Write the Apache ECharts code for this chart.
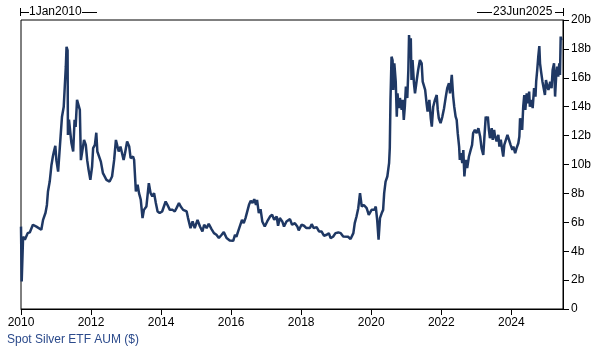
<!DOCTYPE html>
<html>
<head>
<meta charset="utf-8">
<script src="https://cdn.jsdelivr.net/npm/echarts@6/dist/echarts.min.js"></script>
<style>
html, body { margin: 0; padding: 0; background: #fff; }
#chart { width: 600px; height: 352px; }
</style>
</head>
<body>
<div id="chart"></div>
<script>
var LINE_COLOR = "#1f3864";
var FONT = "Arial, 'Liberation Sans', sans-serif";

// decimal years
var years = [
	2010.00, 2010.02, 2010.04, 2010.06, 2010.11, 2010.19, 2010.25, 2010.34, 2010.44, 2010.58,
	2010.63, 2010.70, 2010.74, 2010.77, 2010.82, 2010.85, 2010.87, 2010.91, 2010.94, 2010.98,
	2011.01, 2011.06, 2011.09, 2011.13, 2011.17, 2011.22, 2011.25, 2011.28, 2011.30, 2011.33,
	2011.34, 2011.37, 2011.41, 2011.44, 2011.49, 2011.53, 2011.56, 2011.60, 2011.65, 2011.68,
	2011.71, 2011.75, 2011.80, 2011.85, 2011.89, 2011.93, 2011.98, 2012.03, 2012.06, 2012.11,
	2012.15, 2012.18, 2012.23, 2012.28, 2012.34, 2012.39, 2012.44, 2012.49, 2012.53, 2012.60,
	2012.66, 2012.71, 2012.74, 2012.79, 2012.84, 2012.89, 2012.93, 2012.97, 2013.03, 2013.09,
	2013.13, 2013.20, 2013.23, 2013.28, 2013.33, 2013.37, 2013.42, 2013.47, 2013.51, 2013.58,
	2013.65, 2013.70, 2013.75, 2013.80, 2013.85, 2013.90, 2013.96, 2014.03, 2014.08, 2014.13,
	2014.18, 2014.25, 2014.33, 2014.39, 2014.44, 2014.51, 2014.56, 2014.63, 2014.73, 2014.77,
	2014.84, 2014.90, 2014.96, 2015.04, 2015.11, 2015.18, 2015.23, 2015.30, 2015.36, 2015.44,
	2015.51, 2015.58, 2015.65, 2015.73, 2015.79, 2015.87, 2015.96, 2016.06, 2016.11, 2016.15,
	2016.20, 2016.25, 2016.31, 2016.36, 2016.41, 2016.46, 2016.51, 2016.56, 2016.61, 2016.66,
	2016.71, 2016.74, 2016.79, 2016.84, 2016.89, 2016.96, 2017.03, 2017.11, 2017.17, 2017.23,
	2017.30, 2017.34, 2017.39, 2017.46, 2017.51, 2017.58, 2017.68, 2017.74, 2017.82, 2017.89,
	2017.93, 2018.01, 2018.08, 2018.15, 2018.25, 2018.30, 2018.36, 2018.44, 2018.51, 2018.58,
	2018.65, 2018.73, 2018.79, 2018.84, 2018.91, 2018.98, 2019.06, 2019.13, 2019.20, 2019.34,
	2019.41, 2019.49, 2019.53, 2019.58, 2019.63, 2019.68, 2019.73, 2019.79, 2019.87, 2019.93,
	2020.01, 2020.09, 2020.13, 2020.17, 2020.21, 2020.25, 2020.30, 2020.34, 2020.37, 2020.41,
	2020.46, 2020.51, 2020.53, 2020.55, 2020.58, 2020.61, 2020.63, 2020.66, 2020.70, 2020.73,
	2020.75, 2020.79, 2020.82, 2020.87, 2020.90, 2020.93, 2020.96, 2020.99, 2021.03, 2021.06,
	2021.08, 2021.11, 2021.13, 2021.15, 2021.18, 2021.22, 2021.25, 2021.30, 2021.34, 2021.39,
	2021.44, 2021.47, 2021.51, 2021.54, 2021.58, 2021.61, 2021.66, 2021.70, 2021.73, 2021.77,
	2021.82, 2021.87, 2021.90, 2021.93, 2021.98, 2022.03, 2022.08, 2022.13, 2022.17, 2022.22,
	2022.25, 2022.30, 2022.34, 2022.37, 2022.41, 2022.44, 2022.47, 2022.51, 2022.53, 2022.56,
	2022.60, 2022.63, 2022.66, 2022.70, 2022.74, 2022.79, 2022.84, 2022.88, 2022.91, 2022.96,
	2023.01, 2023.06, 2023.11, 2023.15, 2023.20, 2023.23, 2023.27, 2023.30, 2023.33, 2023.36,
	2023.39, 2023.44, 2023.47, 2023.51, 2023.53, 2023.58, 2023.63, 2023.66, 2023.70, 2023.74,
	2023.77, 2023.80, 2023.84, 2023.89, 2023.93, 2023.98, 2024.03, 2024.06, 2024.11, 2024.15,
	2024.20, 2024.23, 2024.25, 2024.28, 2024.31, 2024.34, 2024.37, 2024.40, 2024.44, 2024.47,
	2024.51, 2024.53, 2024.58, 2024.61, 2024.65, 2024.69, 2024.71, 2024.74, 2024.77, 2024.80,
	2024.82, 2024.85, 2024.89, 2024.93, 2024.96, 2024.99, 2025.03, 2025.06, 2025.11, 2025.15,
	2025.18, 2025.22, 2025.25, 2025.28, 2025.31, 2025.34, 2025.37, 2025.39, 2025.41, 2025.43
];

// AUM in billions of $
var aum = [
	5.7, 1.9, 2.0, 5.0, 4.8, 5.25, 5.3, 5.83, 5.7, 5.48,
	6.17, 6.66, 7.2, 8.13, 8.82, 9.51, 9.97, 10.55, 10.9, 11.29,
	10.3, 9.51, 10.55, 11.93, 13.3, 14.0, 15.4, 16.77, 18.15, 17.9,
	12.05, 13.1, 12.17, 11.48, 10.9, 13.1, 12.6, 14.47, 14.35, 13.78,
	10.3, 10.2, 11.7, 11.36, 10.3, 9.63, 8.94, 9.86, 11.13, 11.36,
	12.2, 10.9, 10.78, 10.2, 9.4, 9.44, 8.94, 9.0, 8.82, 9.17,
	10.32, 11.7, 11.82, 10.9, 11.24, 11.36, 10.32, 10.78, 11.59, 11.24,
	10.44, 10.55, 10.32, 8.13, 8.6, 8.02, 7.56, 6.29, 6.86, 7.09,
	8.71, 8.02, 7.79, 8.02, 7.33, 6.75, 6.64, 6.75, 6.64, 7.44,
	7.21, 6.86, 6.86, 6.75, 6.98, 7.33, 7.09, 6.86, 6.75, 6.29,
	5.6, 6.06, 5.6, 6.17, 5.71, 5.37, 5.83, 5.6, 5.9, 5.53,
	5.25, 5.14, 4.91, 5.14, 5.32, 4.91, 4.74, 4.72, 5.14, 5.0,
	5.37, 5.48, 6.17, 5.94, 6.29, 6.4, 7.21, 7.5, 7.33, 7.6,
	7.21, 7.55, 6.64, 6.91, 6.06, 5.71, 6.06, 6.4, 6.52, 6.17,
	6.4, 5.76, 6.29, 6.06, 5.71, 6.06, 6.22, 5.83, 5.94, 5.71,
	5.44, 5.83, 5.76, 5.6, 5.6, 5.87, 5.6, 5.67, 5.37, 5.37,
	5.07, 5.14, 5.25, 4.91, 5.0, 5.25, 5.3, 5.25, 5.02, 5.0,
	4.84, 5.25, 5.94, 6.4, 6.98, 8.02, 7.09, 7.2, 6.98, 6.52,
	6.86, 6.86, 7.09, 6.17, 4.79, 6.29, 6.64, 6.86, 8.02, 8.82,
	9.17, 10.09, 11.13, 14.47, 17.46, 17.2, 15.16, 17.0, 15.73, 13.31,
	14.93, 13.9, 14.6, 13.78, 14.47, 13.09, 14.0, 15.39, 14.6, 16.54,
	18.96, 17.7, 18.73, 15.85, 17.23, 15.62, 14.93, 15.85, 16.54, 17.23,
	17.0, 15.73, 15.73, 15.16, 14.24, 13.66, 14.47, 13.2, 12.62, 14.0,
	14.47, 14.81, 13.78, 13.2, 12.86, 13.3, 13.9, 14.7, 15.28, 15.62,
	14.93, 16.2, 14.7, 14.0, 13.31, 13.09, 12.17, 11.24, 10.32, 10.78,
	10.09, 11.0, 9.17, 10.32, 9.75, 10.55, 11.01, 11.36, 12.17, 12.4,
	12.17, 12.51, 11.94, 11.13, 10.67, 11.82, 13.31, 13.09, 13.31, 12.4,
	11.82, 12.51, 11.71, 12.4, 12.05, 11.59, 12.05, 11.24, 11.71, 11.01,
	10.55, 11.36, 11.47, 12.05, 11.94, 11.36, 11.01, 11.24, 10.78, 11.13,
	11.47, 11.94, 13.2, 13.31, 12.4, 14.0, 14.81, 13.78, 14.93, 14.24,
	15.04, 14.0, 14.47, 13.9, 15.28, 14.7, 15.73, 16.54, 17.46, 18.2,
	17.0, 16.43, 15.73, 15.85, 14.81, 15.85, 15.39, 15.16, 15.73, 15.28,
	16.54, 17.0, 14.7, 16.08, 16.77, 16.08, 17.0, 16.2, 18.85, 18.6
];

var xTicks = [2010, 2012, 2014, 2016, 2018, 2020, 2022, 2024];
var START_YEAR = 2010;
var END_YEAR = 2025.476; // 23Jun2025
var startLabel = "1Jan2010";
var endLabel = "23Jun2025";
var seriesName = "Spot Silver ETF AUM ($)";

var chart = echarts.init(document.getElementById("chart"), null, { renderer: "canvas" });

var lineData = years.map(function(y, i) {
	return [y, aum[i]];
});

var option = {
	backgroundColor: "#fff",
	animation: false,
	textStyle: { fontFamily: FONT },
	grid: {
		left: 21,
		right: 37,
		top: 20,
		bottom: 43,
		show: true,
		borderColor: "#000",
		borderWidth: 1,
		backgroundColor: "transparent"
	},
	xAxis: {
		type: "value",
		min: START_YEAR,
		max: END_YEAR,
		interval: 2,
		splitLine: { show: false },
		axisLine: { lineStyle: { color: "#000", width: 1 } },
		axisTick: {
			show: true,
			length: 6,
			customValues: xTicks,
			lineStyle: { color: "#000" }
		},
		axisLabel: {
			customValues: xTicks,
			color: "#000",
			fontSize: 12,
			fontFamily: FONT,
			margin: 8,
			formatter: function(v) { return String(v); }
		}
	},
	yAxis: {
		type: "value",
		position: "right",
		min: 0,
		max: 20,
		interval: 2,
		splitLine: { show: false },
		axisLine: { show: true, lineStyle: { color: "#000", width: 1 } },
		axisTick: { show: true, length: 6, lineStyle: { color: "#000" } },
		axisLabel: {
			color: "#000",
			fontSize: 12,
			fontFamily: FONT,
			margin: 8,
			formatter: function(v) { return v === 0 ? "0" : v + "b"; }
		}
	},
	series: [
		{
			name: seriesName,
			type: "line",
			data: lineData,
			showSymbol: false,
			symbol: "none",
			lineStyle: { color: LINE_COLOR, width: 2.5 },
			itemStyle: { color: LINE_COLOR }
		}
	],
	graphic: [
		// start date bracket
		{ type: "line", shape: { x1: 20.5, y1: 8, x2: 20.5, y2: 16 }, style: { stroke: "#000", lineWidth: 1 } },
		{ type: "line", shape: { x1: 20.5, y1: 12.5, x2: 29, y2: 12.5 }, style: { stroke: "#000", lineWidth: 1 } },
		{ type: "text", left: 29, top: 6, style: { text: startLabel, fill: "#000", font: "12px " + FONT } },
		{ type: "line", shape: { x1: 82, y1: 12.5, x2: 97, y2: 12.5 }, style: { stroke: "#000", lineWidth: 1 } },
		// end date bracket
		{ type: "line", shape: { x1: 477, y1: 12.5, x2: 492, y2: 12.5 }, style: { stroke: "#000", lineWidth: 1 } },
		{ type: "text", left: 493, top: 6, style: { text: endLabel, fill: "#000", font: "12px " + FONT } },
		{ type: "line", shape: { x1: 555, y1: 12.5, x2: 563.5, y2: 12.5 }, style: { stroke: "#000", lineWidth: 1 } },
		{ type: "line", shape: { x1: 563.5, y1: 8, x2: 563.5, y2: 16 }, style: { stroke: "#000", lineWidth: 1 } },
		// series caption
		{ type: "text", left: 7, top: 334, style: { text: seriesName, fill: "#2b4a8b", font: "12px " + FONT } }
	]
};

chart.setOption(option);
</script>
</body>
</html>
